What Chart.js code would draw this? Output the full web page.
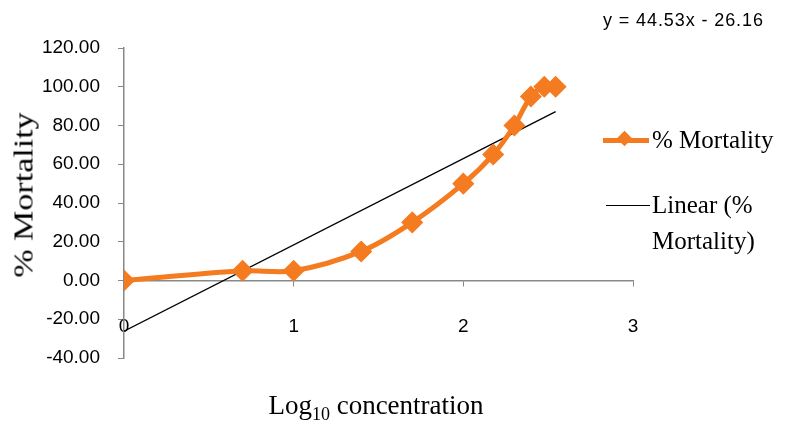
<!DOCTYPE html>
<html>
<head>
<meta charset="utf-8">
<script src="https://cdn.jsdelivr.net/npm/chart.js@4.4.1/dist/chart.umd.min.js"></script>
<style>
  html, body { margin: 0; padding: 0; background: #fff; }
  #wrap { position: relative; width: 788px; height: 425px; }
  #chart { position: absolute; left: 0; top: 0; }
  .serif { font-family: "Liberation Serif", "Times New Roman", serif; color: #000; position: absolute; white-space: nowrap; }
  #ytitle { left: 24px; top: 195px; font-size: 27px; transform: translate(-50%, -50%) rotate(-90deg) scaleX(1.26); }
  #xtitle { left: 376px; top: 390px; font-size: 27px; transform: translateX(-50%); }
  #xtitle sub { font-size: 18px; vertical-align: -6px; }
  #eqn { left: 603px; top: 10px; font-family: "Liberation Sans", Arial, sans-serif; font-size: 18px; letter-spacing: 0.9px; color: #000; position: absolute; }
  .leg { font-size: 25px; line-height: 36px; }
  .swatch { position: absolute; }
</style>
</head>
<body>
<div id="wrap">
  <canvas id="chart" width="788" height="425"></canvas>
  <div id="ytitle" class="serif">% Mortality</div>
  <div id="xtitle" class="serif">Log<sub>10</sub> concentration</div>
  <div id="eqn">y = 44.53x - 26.16</div>
  <div class="swatch" style="left:603px; top:138px; width:46px; height:5px; background:#F47B20;"></div>
  <div class="swatch" style="left:619px; top:133px; width:11px; height:11px; background:#F47B20; transform:rotate(45deg);"></div>
  <div class="serif leg" style="left:652px; top:122px;">% Mortality</div>
  <div class="swatch" style="left:606px; top:205px; width:44px; height:1px; background:#000;"></div>
  <div class="serif leg" style="left:652px; top:187px;">Linear (%<br>Mortality)</div>
</div>
<script>
// log10 of concentration vs observed mortality
const logConc = [0, 0.699, 1, 1.398, 1.699, 2, 2.176, 2.301, 2.398, 2.477, 2.544];
const mortality = [0, 5, 5, 15, 30, 50, 65, 80, 95, 100, 100];

// fitted trend: y = 44.53x - 26.16
const slope = 44.53;
const intercept = -26.16;
const trendX = [0, 2.544];

const yTicks = [-40, -20, 0, 20, 40, 60, 80, 100, 120];
const xTicks = [0, 1, 2, 3];

const orange = '#F47B20';

const ctx = document.getElementById('chart').getContext('2d');
new Chart(ctx, {
    type: 'scatter',
    data: {
        datasets: [
            {
                label: '% Mortality',
                data: logConc.map((x, i) => ({ x: x, y: mortality[i] })),
                showLine: true,
                borderColor: orange,
                backgroundColor: orange,
                borderWidth: 5,
                tension: 0.3,
                pointStyle: 'rectRot',
                pointRadius: 7.5,
                pointHoverRadius: 7.5
            },
            {
                label: 'Linear (% Mortality)',
                data: trendX.map(x => ({ x: x, y: slope * x + intercept })),
                showLine: true,
                borderColor: '#000',
                borderWidth: 1.3,
                pointRadius: 0
            }
        ]
    },
    options: {
        responsive: false,
        animation: false,
        layout: {
            padding: { left: 0, right: 155, top: 48, bottom: 67 }
        },
        scales: {
            x: {
                type: 'linear',
                position: { y: 0 },
                min: 0,
                max: 3,
                afterBuildTicks: s => { s.ticks = xTicks.map(v => ({ value: v })); },
                grid: { display: true, drawOnChartArea: false, tickLength: 5, color: '#888' },
                border: { color: '#888', width: 1.5 },
                ticks: {
                    padding: 30,
                    color: '#000',
                    font: { family: '"Liberation Sans", Arial, sans-serif', size: 19 },
                    maxRotation: 0
                }
            },
            y: {
                min: -40,
                max: 120,
                afterBuildTicks: s => { s.ticks = yTicks.map(v => ({ value: v })); },
                afterFit: s => { s.width = 124; },
                grid: { display: true, drawOnChartArea: false, tickLength: 6, color: '#888' },
                border: { color: '#888', width: 1.5 },
                ticks: {
                    padding: 18,
                    color: '#000',
                    font: { family: '"Liberation Sans", Arial, sans-serif', size: 19 },
                    callback: v => Number(v).toFixed(2)
                }
            }
        },
        plugins: {
            legend: { display: false },
            tooltip: { enabled: false }
        }
    }
});
</script>
</body>
</html>
